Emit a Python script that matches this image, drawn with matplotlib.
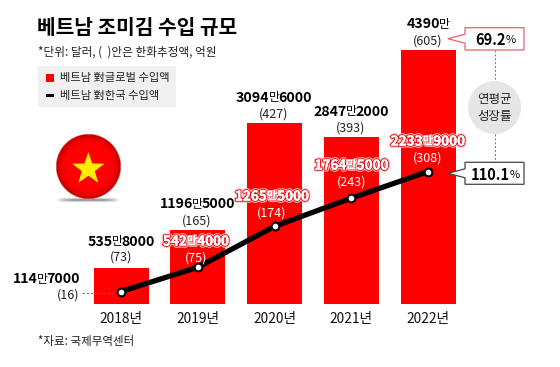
import matplotlib
matplotlib.use("Agg")
import matplotlib.pyplot as plt
import matplotlib.patheffects as pe
import numpy as np
from matplotlib.patches import Circle, Polygon, Rectangle

plt.rcParams["font.family"] = ["Noto Sans CJK KR", "DejaVu Sans"]

years = ["2018년", "2019년", "2020년", "2021년", "2022년"]
# 만 달러
global_vals = [535.8, 1196.5, 3094.6, 2847.2, 4390]
korea_vals = [114.7, 542.4, 1265.5, 1764.5, 2233.9]
global_labels = ["535만8000", "1196만5000", "3094만6000", "2847만2000", "4390만"]
korea_labels = ["114만7000", "542만4000", "1265만5000", "1764만5000", "2233만9000"]
global_krw = ["(73)", "(165)", "(427)", "(393)", "(605)"]
korea_krw = ["(16)", "(75)", "(174)", "(243)", "(308)"]
growth_global = "69.2"
growth_korea = "110.1"

RED = "#ff0000"
W, H = 560, 367

fig = plt.figure(figsize=(W / 100, H / 100), dpi=100, facecolor="white")

# data axes covers the whole figure, scale picked so bars land on the reference pixels
ax = fig.add_axes([0, 0, 1, 1])
px_per_unit = 0.0566
y_floor = -106
ax.set_xlim((0 - 121) / 76.75, (W - 121) / 76.75)
ax.set_ylim(y_floor - (H - 304) / px_per_unit, y_floor + 304 / px_per_unit)
ax.axis("off")

x = np.arange(len(years))
ax.bar(x, np.array(global_vals) - y_floor, bottom=y_floor, width=55 / 76.75, color=RED, zorder=1)
ax.plot(x, korea_vals, color="black", lw=3.8, zorder=3, solid_capstyle="round")
ax.plot(x, korea_vals, "o", ms=5.6, mfc="white", mec="black", mew=1.5, zorder=4)

# pixel overlay for the text and callouts
ov = fig.add_axes([0, 0, 1, 1], facecolor="none")
ov.set_xlim(0, W)
ov.set_ylim(H, 0)
ov.axis("off")
renderer = fig.canvas.get_renderer()


def rich_label(cx, cy, label, color="black", halo=False, anchor="center"):
    # digits bold, the 만 small and light
    left, _, right = label.partition("만")
    num_size, man_size, gap = (9.7, 8.2, 0.0) if halo else (10.2, 8.6, -1.0)
    runs = [(left, num_size, "bold", 1.6, 6), ("만", man_size, "normal", 0.4, 7), (right, num_size, "bold", 1.6, 6)]
    arts = []
    total = 0
    for s, size, weight, stroke, z in runs:
        if not s:
            continue
        t = ov.text(0, cy, s, fontsize=size, fontweight=weight, color=color,
                    ha="left", va="center_baseline", zorder=z)
        if halo:
            t.set_path_effects([pe.Stroke(linewidth=stroke + 1.5, foreground="#ffb8b8"),
                                pe.Stroke(linewidth=stroke, foreground="#e00008"),
                                pe.Stroke(linewidth=0.35, foreground="white"),
                                pe.Normal()])
        arts.append((t, total))
        total += t.get_window_extent(renderer).width + gap
    x0 = cx - total / 2 if anchor == "center" else cx - total
    for t, off in arts:
        t.set_x(x0 + off)


def small(cx, cy, s, color="#222222", ha="center"):
    ov.text(cx, cy, s, fontsize=9, color=color, ha=ha, va="center_baseline", zorder=6)


# headings
ov.text(37, 26, "베트남 조미김 수입 규모", fontsize=14.6, fontweight="bold", ha="left", va="center_baseline")
ov.text(38, 51, "*단위: 달러, (  )안은 한화추정액, 억원", fontsize=8.4, color="#222222", ha="left", va="center_baseline")
ov.text(38, 340, "*자료: 국제무역센터", fontsize=8.3, color="#222222", ha="left", va="center_baseline")

# legend
ov.add_patch(Rectangle((38, 66), 138, 41, fc="#f0f0f0", ec="none", zorder=0))
ov.add_patch(Rectangle((45.5, 74), 8, 7.5, fc=RED, ec="none"))
ov.add_patch(Rectangle((45.5, 93.5), 8, 3.5, fc="black", ec="none"))
ov.text(60, 77.5, "베트남 對글로벌 수입액", fontsize=8.1, color="#222222", ha="left", va="center_baseline")
ov.text(60, 95, "베트남 對한국 수입액", fontsize=8.1, color="#222222", ha="left", va="center_baseline")

# flag with shading
yy, xx = np.mgrid[-1:1:200j, -1:1:200j]
rr = np.hypot(xx, yy)
shade = np.clip(1 - 0.25 * np.clip((rr - 0.65) / 0.35, 0, 1) ** 2, 0, 1)
img = np.dstack([shade, np.zeros_like(rr), np.zeros_like(rr), (rr <= 1).astype(float)])
ov.imshow(img, extent=(55.8, 120.8, 199.2, 134.2), zorder=2, interpolation="bilinear")
shadow_x = np.linspace(-1, 1, 200)
shadow = np.zeros((8, 200, 4))
shadow[..., :3] = 0.45
shadow[..., 3] = np.outer(np.hanning(8), 1 - shadow_x ** 4) * 0.8
ov.imshow(shadow, extent=(57, 119, 203, 197), zorder=1)
ov.set_xlim(0, W)
ov.set_ylim(H, 0)
ov.set_aspect("auto")
star_ang = np.deg2rad(np.arange(10) * 36 - 90)
star_r = np.where(np.arange(10) % 2 == 0, 17, 6.8)
ov.add_patch(Polygon(np.c_[88.3 + star_r * np.cos(star_ang), 169 + star_r * np.sin(star_ang)],
                     fc="#ffee00", ec="none", zorder=3))

# year labels
for xc, yr in zip([121, 198, 274.5, 351, 428], years):
    ov.text(xc, 317, yr, fontsize=9.9, color="#111111", ha="center", va="center_baseline")

# global labels
glob_pos = [(121, 240, 256), (197, 203, 220), (273.5, 96, 112.7), (351, 110, 126.7), (428, 22.7, 39.3)]
for (cx, y1, y2), lab, krw in zip(glob_pos, global_labels, global_krw):
    rich_label(cx, y1, lab)
    small(cx, y2, krw)

# korea labels
rich_label(79, 277.7, korea_labels[0], anchor="right")
small(79, 294, korea_krw[0], ha="right")
ov.plot([82, 115], [292.5, 292.5], color="#666666", lw=0.6, ls=(0, (3, 2)), zorder=2)
kor_pos = [(196, 240, 256.7), (272, 195, 212), (351.5, 164, 181), (428, 140, 156.7)]
for (cx, y1, y2), lab, krw in zip(kor_pos, korea_labels[1:], korea_krw[1:]):
    rich_label(cx, y1, lab, color="white", halo=True)
    small(cx, y2, krw, color="white")


def callout(y0, y1, tip_y, edge, num):
    pts = [(465, y0), (524, y0), (524, y1), (465, y1), (465, tip_y + 4.5), (448, tip_y), (465, tip_y - 4.5)]
    ov.add_patch(Polygon(pts, closed=True, fc="white", ec=edge, lw=0.9, zorder=5))
    t = ov.text(490, (y0 + y1) / 2, num, fontsize=10.5, fontweight="bold", ha="center",
                va="center_baseline", zorder=6)
    ov.text(t.get_window_extent(renderer).x1 + 0.5, (y0 + y1) / 2 + 0.5, "%", fontsize=8,
            ha="left", va="center_baseline", zorder=6)


callout(27.7, 50, 38.7, "#e8606a", growth_global)
callout(162.3, 184.3, 173.3, "#444444", growth_korea)

# growth-rate badge
ov.plot([494.5, 494.5], [50, 81], color="#777777", lw=0.7, ls=(0, (2, 2)), zorder=2)
ov.plot([494.5, 494.5], [134, 162], color="#777777", lw=0.7, ls=(0, (2, 2)), zorder=2)
ov.add_patch(Circle((494.5, 107.5), 26.5, fc="#e6e6e6", ec="none", zorder=3))
ov.text(494.5, 98.5, "연평균", fontsize=9, color="#222222", ha="center", va="center_baseline", zorder=6)
ov.text(494.5, 115, "성장률", fontsize=9, color="#222222", ha="center", va="center_baseline", zorder=6)

fig.savefig("out.png", dpi=100)
